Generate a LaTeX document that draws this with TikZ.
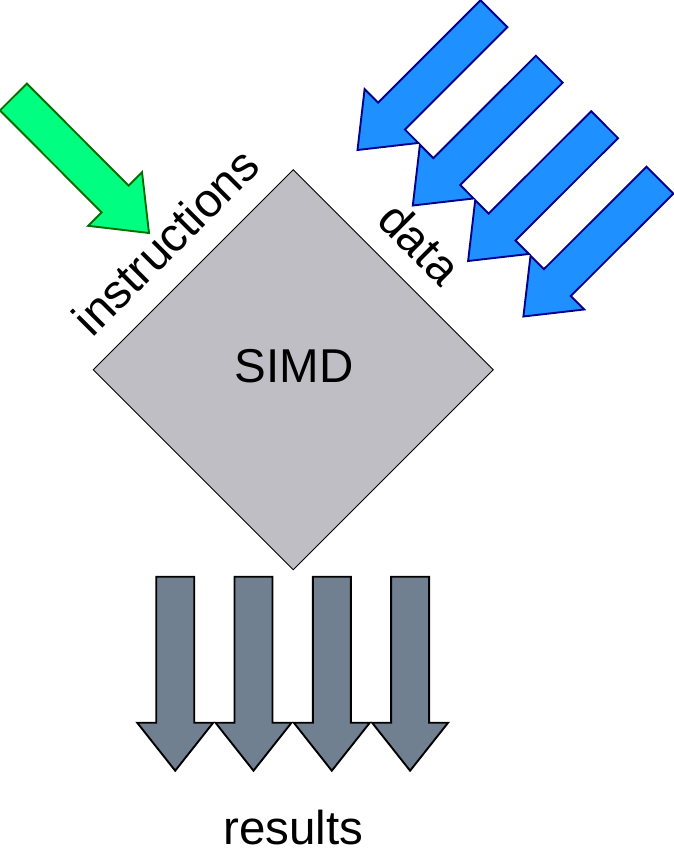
\documentclass[tikz,border=0pt]{standalone}
\usepackage{fontspec}
\setmainfont{Liberation Sans}
\usetikzlibrary{calc}

\definecolor{chipfill}{RGB}{190,190,196}
\definecolor{instrfill}{RGB}{0,255,128}
\definecolor{instrline}{RGB}{0,110,0}
\definecolor{datafill}{RGB}{30,144,255}
\definecolor{dataline}{RGB}{0,0,140}
\definecolor{resfill}{RGB}{112,128,144}

\tikzset{
  labeltext/.style={font=\fontsize{47.5pt}{57pt}\selectfont, inner sep=0pt, anchor=base},
  instrarrow/.style={draw=instrline, fill=instrfill, line width=1.9pt, line join=miter},
  dataarrow/.style={draw=dataline, fill=datafill, line width=1.9pt, line join=miter},
  resarrow/.style={draw=black, fill=resfill, line width=1.9pt, line join=miter},
  chip/.style={draw=black, fill=chipfill, line width=0.9pt},
}

% Block arrow from a tail coordinate to a tip coordinate:
% shaft 38pt wide, head 76pt wide and 48pt long.
\newcommand\blockarrow[3]{%
  \coordinate (#2-head) at ($(#3)!48pt!(#2)$);
  \draw[#1] ($(#2)!19pt!90:(#3)$)
    -- ($(#2-head)!19pt!-90:(#2)$)
    -- ($(#2-head)!38pt!-90:(#2)$)
    -- (#3)
    -- ($(#2-head)!38pt!90:(#2)$)
    -- ($(#2-head)!19pt!90:(#2)$)
    -- ($(#2)!19pt!-90:(#3)$)
    -- cycle;
}

\begin{document}
\begin{tikzpicture}[x=1pt, y=-1pt]
  \useasboundingbox (0,0) rectangle (673,851);

  % processor
  \coordinate (ct) at (293.3,169.7);
  \coordinate (cr) at (493.3,369.7);
  \coordinate (cb) at (293.3,569.7);
  \coordinate (cl) at (93.3,369.7);
  \draw[chip] (ct) -- (cr) -- (cb) -- (cl) -- cycle;
  \node[labeltext] (simd) at (294,382) {SIMD};

  % edge labels
  \node[labeltext, rotate=45] (instr) at (177.5,253.5) {instructions};
  \node[labeltext, rotate=-45] (data) at (408,255) {data};

  % instruction stream
  \coordinate (itail) at (13.4,97);
  \coordinate (itip) at (149,233);
  \blockarrow{instrarrow}{itail}{itip}

  % data streams
  \foreach \k in {0,1,2,3} {
    \coordinate (dtail\k) at ({494+55.3*\k},{13.7+55.5*\k});
    \coordinate (dtip\k) at ({494+55.3*\k-136.5},{13.7+55.5*\k+136.3});
    \blockarrow{dataarrow}{dtail\k}{dtip\k}
  }

  % result streams
  \foreach \k in {0,1,2,3} {
    \coordinate (rtail\k) at ({175.2+78.3*\k},576.7);
    \coordinate (rtip\k) at ({175.2+78.3*\k},770.7);
    \blockarrow{resarrow}{rtail\k}{rtip\k}
  }
  \node[labeltext] (results) at (293.5,844) {results};
\end{tikzpicture}
\end{document}
